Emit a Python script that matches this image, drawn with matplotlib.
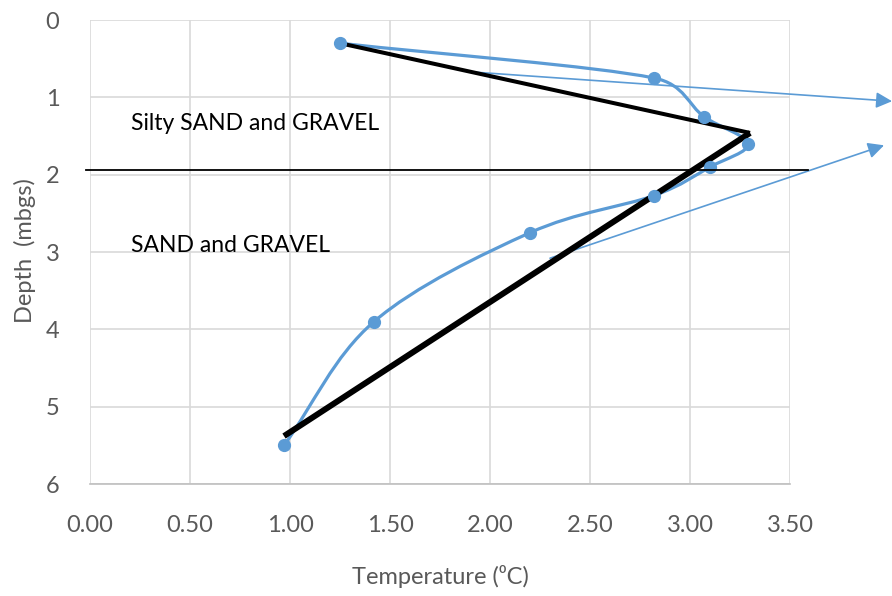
import matplotlib.pyplot as plt
import numpy as np
from matplotlib.path import Path
from matplotlib.patches import PathPatch

# measured temperature profile (blue, smoothed)
temp = [1.25, 2.82, 3.07, 3.29, 3.10, 2.82, 2.20, 1.42, 0.97]
depth = [0.30, 0.75, 1.25, 1.60, 1.90, 2.27, 2.75, 3.90, 5.50]

# simplified trend (black)
trend_temp = [1.25, 3.30, 0.97]
trend_depth = [0.30, 1.46, 5.38]

# boundary between the two layers
layer_depth = 1.94
layer_x = [-0.02, 3.59]

# arrows (start x, start y, end x, end y)
arrow1 = [1.90, 0.67, 4.01, 1.05]
arrow2 = [2.30, 3.08, 3.97, 1.62]

blue = '#5B9BD5'
grey = '#595959'
fam = ['Lato', 'DejaVu Sans']


# smoothed line like Excel: cubic bezier through the points
# (tangents worked out in screen-like units, arms capped so it doesn't overshoot)
def smooth_path(xs, ys, sx=200 / 77.3):
    p = np.column_stack([xs, ys])
    k = np.array([sx, 1.0])
    q = p * k
    n = len(q)
    verts = [p[0]]
    codes = [Path.MOVETO]
    for i in range(n - 1):
        seg = np.linalg.norm(q[i + 1] - q[i])
        t1 = (q[i + 1] - q[i - 1]) / 6.0 if i > 0 else (q[i + 1] - q[i]) / 3.0
        t2 = (q[i + 2] - q[i]) / 6.0 if i + 2 < n else (q[i + 1] - q[i]) / 3.0
        for t in (t1, t2):
            L = np.linalg.norm(t)
            if L > seg * 0.5:
                t *= seg * 0.5 / L
        c1 = (q[i] + t1) / k
        c2 = (q[i + 1] - t2) / k
        verts += [c1, c2, p[i + 1]]
        codes += [Path.CURVE4] * 3
    return Path(verts, codes)


fig = plt.figure(figsize=(8.92, 5.96), dpi=100)
ax = fig.add_axes([0.1009, 0.1879, 0.7848, 0.7785])

ax.add_patch(PathPatch(smooth_path(temp, depth), facecolor='none',
                       edgecolor=blue, lw=2.3, zorder=3))
ax.plot(temp, depth, 'o', color=blue, markersize=8.5, zorder=5)
ax.plot(trend_temp[:2], trend_depth[:2], color='black', lw=2.9, zorder=4,
        solid_capstyle='butt')
ax.plot(trend_temp[1:], trend_depth[1:], color='black', lw=4.3, zorder=4,
        solid_capstyle='butt')

ax.plot(layer_x, [layer_depth, layer_depth], color='black', lw=1.3,
        clip_on=False, zorder=6)

for a in [arrow1, arrow2]:
    ax.annotate('', xy=(a[2], a[3]), xytext=(a[0], a[1]),
                annotation_clip=False,
                arrowprops=dict(arrowstyle='-|>', color=blue, lw=1.2,
                                mutation_scale=24, shrinkA=0, shrinkB=0))

ax.text(0.205, 1.42, 'Silty SAND and GRAVEL', fontsize=16.5, family=fam,
        color='black', va='baseline')
ax.text(0.205, 3.0, 'SAND and GRAVEL', fontsize=16.5, family=fam,
        color='black', va='baseline')

ax.set_xlim(0, 3.5)
ax.set_ylim(6, 0)
ax.set_xticks(np.arange(0, 3.51, 0.5))
ax.set_xticklabels(['%.2f' % v for v in np.arange(0, 3.51, 0.5)])
ax.set_yticks(range(0, 7))
ax.grid(True, color='#D9D9D9', lw=1.2)
ax.set_axisbelow(True)
for s in ['top', 'right', 'left']:
    ax.spines[s].set_visible(False)
ax.spines['bottom'].set_color('#BFBFBF')
ax.spines['bottom'].set_linewidth(1.2)
ax.tick_params(length=0, labelsize=17, labelcolor=grey)
for lab in ax.get_xticklabels() + ax.get_yticklabels():
    lab.set_family(fam)
ax.tick_params(axis='x', pad=22)
ax.tick_params(axis='y', pad=22)

ax.set_xlabel('Temperature (\u2070C)', fontsize=17, color=grey, family=fam)
ax.set_ylabel('Depth  (mbgs)', fontsize=17, color=grey, family=fam)
ax.xaxis.set_label_coords(0.5, -0.175)
ax.yaxis.set_label_coords(-0.077, 0.504)

fig.savefig('out.png', dpi=100)
